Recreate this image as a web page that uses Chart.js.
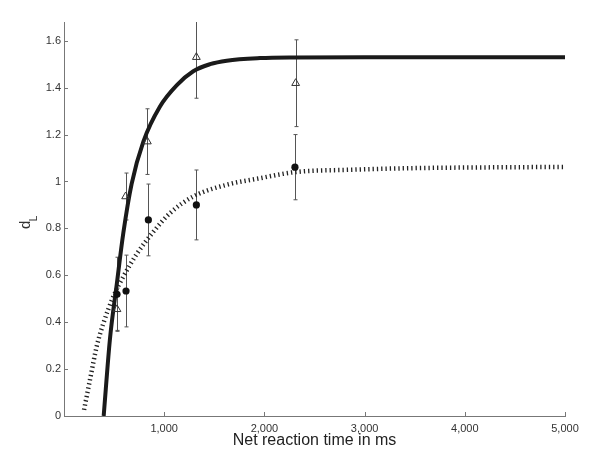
<!DOCTYPE html>
<html>
<head>
<meta charset="utf-8">
<script src="https://cdn.jsdelivr.net/npm/chart.js@4.4.1/dist/chart.umd.min.js"></script>
<style>
  html, body { margin: 0; padding: 0; background: #fff; }
  #wrap { width: 600px; height: 464px; }
</style>
</head>
<body>
<div id="wrap"><canvas id="chart" width="600" height="464"></canvas></div>
<script>
// measured points (open triangles)
const tTri = [529, 615, 832, 1321, 2312];
const dTri = [0.455, 0.936, 1.170, 1.530, 1.419];
const errTri = [0.09, 0.10, 0.14, 0.175, 0.185];

// measured points (filled circles)
const tDot = [529, 619, 842, 1321, 2305];
const dDot = [0.519, 0.533, 0.836, 0.900, 1.061];
const errDot = [0.158, 0.153, 0.153, 0.149, 0.139];

// fitted curve, solid
const tFitSolid = [396, 459, 526, 592, 675, 792, 958, 1124, 1290, 1457, 1624, 1956, 2300, 3000, 4000, 5000];
const dFitSolid = [0, 0.33, 0.56, 0.78, 0.99, 1.17, 1.32, 1.41, 1.47, 1.50, 1.515, 1.526, 1.529, 1.53, 1.53, 1.53];

// fitted curve, dotted
const tFitDotted = [200, 259, 326, 393, 492, 592, 725, 891, 1058, 1290, 1624, 1956, 2305, 2855, 3500, 4200, 5000];
const dFitDotted = [0.026, 0.154, 0.296, 0.395, 0.509, 0.594, 0.69, 0.785, 0.865, 0.936, 0.986, 1.014, 1.040, 1.050, 1.057, 1.060, 1.062];

const xTicks = [1000, 2000, 3000, 4000, 5000];
const yTicks = [0, 0.2, 0.4, 0.6, 0.8, 1, 1.2, 1.4, 1.6];

const axisColor = "#777";
const textColor = "#333";
const fontFamily = "'Liberation Sans', Arial, Helvetica, sans-serif";

const pts = (xs, ys) => xs.map((x, i) => ({ x: x, y: ys[i] }));

const errorBars = {
    id: "errorBars",
    beforeDatasetsDraw(chart) {
        const { ctx, chartArea, scales } = chart;
        const sx = scales.x, sy = scales.y;
        ctx.save();
        ctx.beginPath();
        ctx.rect(chartArea.left, chartArea.top, chartArea.right - chartArea.left, chartArea.bottom - chartArea.top);
        ctx.clip();
        ctx.strokeStyle = "#555";
        ctx.lineWidth = 1;
        const draw = (xs, ys, es) => {
            xs.forEach((t, i) => {
                const px = Math.round(sx.getPixelForValue(t)) + 0.5;
                const top = sy.getPixelForValue(ys[i] + es[i]);
                const bot = sy.getPixelForValue(ys[i] - es[i]);
                ctx.beginPath();
                ctx.moveTo(px, top);
                ctx.lineTo(px, bot);
                ctx.moveTo(px - 2, top);
                ctx.lineTo(px + 2, top);
                ctx.moveTo(px - 2, bot);
                ctx.lineTo(px + 2, bot);
                ctx.stroke();
            });
        };
        draw(tTri, dTri, errTri);
        draw(tDot, dDot, errDot);
        ctx.restore();
    },
};

const innerTicks = {
    id: "innerTicks",
    afterDraw(chart) {
        const { ctx, chartArea, scales } = chart;
        ctx.save();
        ctx.strokeStyle = axisColor;
        ctx.lineWidth = 1;
        ctx.beginPath();
        yTicks.forEach((v) => {
            if (v === 0) return;
            const py = Math.round(scales.y.getPixelForValue(v)) + 0.5;
            ctx.moveTo(chartArea.left, py);
            ctx.lineTo(chartArea.left + 4, py);
        });
        xTicks.forEach((v) => {
            const px = Math.round(scales.x.getPixelForValue(v)) + 0.5;
            ctx.moveTo(px, chartArea.bottom);
            ctx.lineTo(px, chartArea.bottom - 4);
        });
        ctx.stroke();

        // y title: d with subscript L
        ctx.fillStyle = textColor;
        ctx.translate(30, 229);
        ctx.rotate(-Math.PI / 2);
        ctx.font = "15px " + fontFamily;
        ctx.textAlign = "left";
        ctx.textBaseline = "alphabetic";
        ctx.fillText("d", 0, 0);
        const w = ctx.measureText("d").width;
        ctx.font = "10px " + fontFamily;
        ctx.fillText("L", w - 0.5, 7);
        ctx.restore();
    },
};

new Chart(document.getElementById("chart"), {
    type: "line",
    data: {
        datasets: [
            {
                label: "triangles",
                data: pts(tTri, dTri),
                showLine: false,
                pointStyle: "triangle",
                pointRadius: 4.5,
                pointBorderWidth: 1,
                pointBorderColor: "#333",
                pointBackgroundColor: "rgba(0,0,0,0)",
                order: 0,
            },
            {
                label: "circles",
                data: pts(tDot, dDot),
                showLine: false,
                pointStyle: "circle",
                pointRadius: 3.6,
                pointBorderWidth: 0,
                pointBackgroundColor: "#111",
                order: 1,
            },
            {
                label: "fit solid",
                data: pts(tFitSolid, dFitSolid),
                borderColor: "#1a1a1a",
                borderWidth: 4,
                pointRadius: 0,
                cubicInterpolationMode: "monotone",
                order: 2,
            },
            {
                label: "fit dotted",
                data: pts(tFitDotted, dFitDotted),
                borderColor: "#222",
                borderWidth: 4.5,
                borderDash: [1.3, 3],
                borderCapStyle: "butt",
                pointRadius: 0,
                cubicInterpolationMode: "monotone",
                order: 3,
            },
        ],
    },
    options: {
        responsive: false,
        animation: false,
        layout: { padding: { top: 22, right: 35, left: 0, bottom: 0 } },
        plugins: {
            legend: { display: false },
            tooltip: { enabled: false },
        },
        scales: {
            x: {
                type: "linear",
                min: 0,
                max: 5000,
                afterBuildTicks: (scale) => {
                    scale.ticks = xTicks.map((v) => ({ value: v }));
                },
                afterFit: (scale) => {
                    scale.height = 48;
                },
                grid: { display: false, drawTicks: false },
                border: { color: axisColor, width: 1 },
                ticks: {
                    padding: 6,
                    color: textColor,
                    font: { size: 11, family: fontFamily },
                    maxRotation: 0,
                    callback: (v) => Number(v).toLocaleString("en-US"),
                },
                title: {
                    display: true,
                    text: "Net reaction time in ms",
                    color: "#222",
                    font: { size: 16, family: fontFamily },
                    padding: { top: 0, bottom: 14 },
                },
            },
            y: {
                type: "linear",
                min: 0,
                max: 1.68,
                afterBuildTicks: (scale) => {
                    scale.ticks = yTicks.map((v) => ({ value: v }));
                },
                afterFit: (scale) => {
                    scale.width = 64;
                },
                grid: { display: false, drawTicks: false },
                border: { color: axisColor, width: 1 },
                ticks: {
                    padding: 3,
                    color: textColor,
                    font: { size: 11, family: fontFamily },
                    callback: (v) => String(Number(Number(v).toFixed(1))),
                },
            },
        },
    },
    plugins: [errorBars, innerTicks],
});
</script>
</body>
</html>
